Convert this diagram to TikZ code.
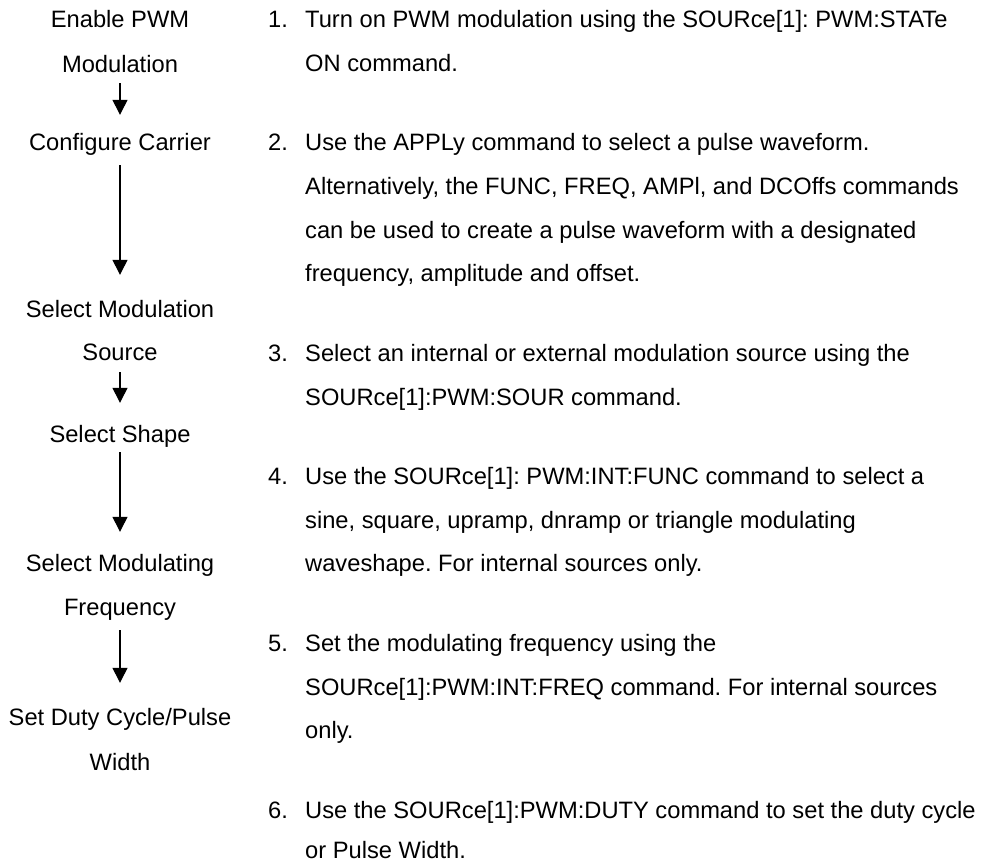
\documentclass[tikz,border=0pt]{standalone}
\usepackage{fontspec}
\setmainfont{Liberation Sans}
\usetikzlibrary{arrows.meta}
\frenchspacing
\begin{document}
\begin{tikzpicture}[x=1pt,y=-1pt,
  lbl/.style={inner sep=0pt, anchor=base, font=\fontsize{23.7}{28}\selectfont, text height=17pt, text depth=5pt},
  txt/.style={inner sep=0pt, anchor=base west, font=\fontsize{23.7}{28}\selectfont},
  arr/.style={line width=1.3pt, -{Triangle[width=15pt,length=15pt]}}]
\useasboundingbox[fill=white] (0,0) rectangle (994,863);
% left column
\node[lbl] (s1a) at (120,27) {Enable PWM};
\node[lbl] (s1b) at (120,72) {Modulation};
\node[lbl] (s2) at (120,150) {Configure Carrier};
\node[lbl] (s3a) at (120,317) {Select Modulation};
\node[lbl] (s3b) at (120,360) {Source};
\node[lbl] (s4) at (120,442) {Select Shape};
\node[lbl] (s5a) at (120,571) {Select Modulating};
\node[lbl] (s5b) at (120,615) {Frequency};
\node[lbl] (s6a) at (120,725) {Set Duty Cycle/Pulse};
\node[lbl] (s6b) at (120,770) {Width};
\draw[arr, shorten <=6pt, shorten >=18pt] (s1b.south) -- (s2.north);
\draw[arr, shorten <=10pt, shorten >=25pt] (s2.south) -- (s3a.north);
\draw[arr, shorten <=7pt, shorten >=22pt] (s3b.south) -- (s4.north);
\draw[arr, shorten <=5pt, shorten >=22pt] (s4.south) -- (s5a.north);
\draw[arr, shorten <=10pt, shorten >=25pt] (s5b.south) -- (s6a.north);
% right column
\node[txt] (n1) at (268,27) {1.};
\node[txt] (t1a) at (305,27) {Turn on PWM modulation using the SOURce[1]: PWM:STATe};
\node[txt] (t1b) at (305,71) {ON command.};
\node[txt] (n2) at (268,150) {2.};
\node[txt] (t2a) at (305,150) {Use the APPLy command to select a pulse waveform.};
\node[txt] (t2b) at (305,194) {Alternatively, the FUNC, FREQ, AMPl, and DCOffs commands};
\node[txt] (t2c) at (305,238) {can be used to create a pulse waveform with a designated};
\node[txt] (t2d) at (305,281) {frequency, amplitude and offset.};
\node[txt] (n3) at (268,361) {3.};
\node[txt] (t3a) at (305,361) {Select an internal or external modulation source using the};
\node[txt] (t3b) at (305,405) {SOURce[1]:PWM:SOUR command.};
\node[txt] (n4) at (268,484) {4.};
\node[txt] (t4a) at (305,484) {Use the SOURce[1]: PWM:INT:FUNC command to select a};
\node[txt] (t4b) at (305,528) {sine, square, upramp, dnramp or triangle modulating};
\node[txt] (t4c) at (305,571) {waveshape. For internal sources only.};
\node[txt] (n5) at (268,651) {5.};
\node[txt] (t5a) at (305,651) {Set the modulating frequency using the};
\node[txt] (t5b) at (305,695) {SOURce[1]:PWM:INT:FREQ command. For internal sources};
\node[txt] (t5c) at (305,738) {only.};
\node[txt] (n6) at (268,818) {6.};
\node[txt] (t6a) at (305,818) {Use the SOURce[1]:PWM:DUTY command to set the duty cycle};
\node[txt] (t6b) at (305,858) {or Pulse Width.};
\end{tikzpicture}
\end{document}
